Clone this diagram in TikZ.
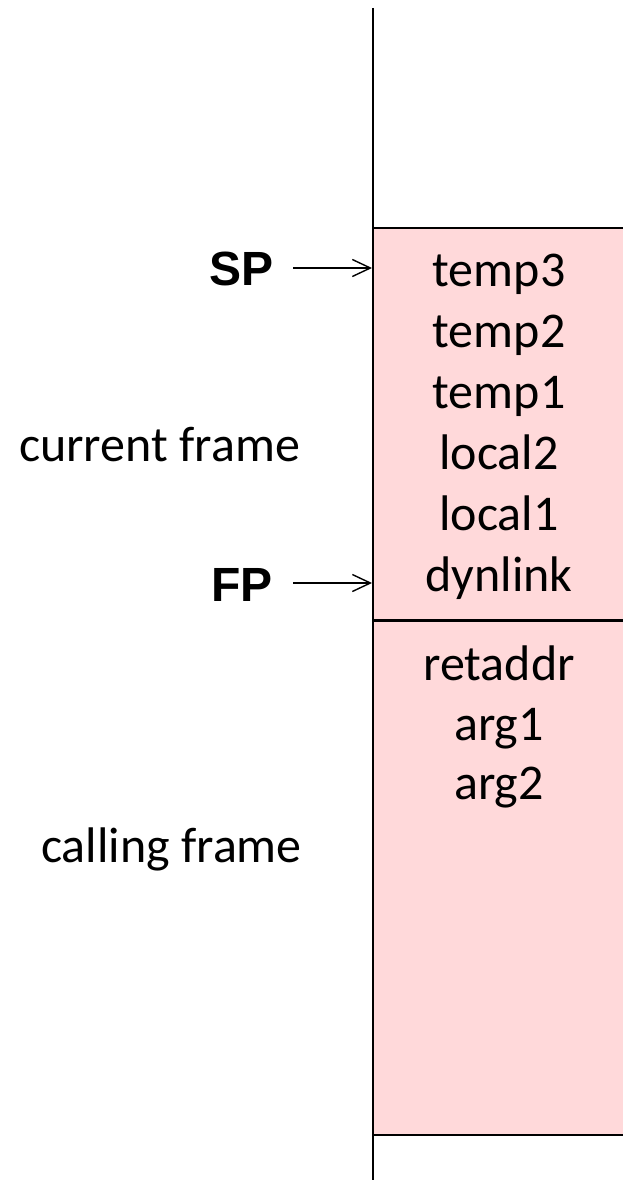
\documentclass[tikz,border=0pt]{standalone}
\usepackage{fontspec}
\setmainfont{Carlito}
\newfontfamily\regfont{Liberation Sans}
\usetikzlibrary{arrows.meta}
\definecolor{framefill}{RGB}{255,217,218}
\begin{document}
\begin{tikzpicture}[x=1pt,y=-1pt,
  slot/.style={anchor=base,inner sep=0pt,font=\fontsize{50}{60}\selectfont},
  side/.style={anchor=base east,inner sep=0pt,font=\fontsize{50}{60}\selectfont},
  reg/.style={anchor=base east,inner sep=0pt,font=\regfont\bfseries\fontsize{48}{56}\selectfont},
  pointer/.style={line width=1.4pt,-{Straight Barb[length=18pt,width=17pt,line width=1.4pt]}},
  rule/.style={line width=2.2pt}]
\useasboundingbox (0,0) rectangle (623,1180);

% stack area
\fill[framefill] (373,228) rectangle (623,1135);
\draw[rule] (373,228) -- (623,228);
\draw[line width=3pt] (373,620) -- (623,620);
\draw[rule] (373,1135) -- (623,1135);
\draw[rule] (373,8) -- (373,1180);

% current frame slots
\node[slot] (t3) at (499,286) {temp3};
\node[slot] (t2) at (499,347) {temp2};
\node[slot] (t1) at (499,408) {temp1};
\node[slot] (l2) at (499,469) {local2};
\node[slot] (l1) at (499,530) {local1};
\node[slot] (dl) at (499,591) {dynlink};

% calling frame slots
\node[slot] (ra) at (499,680) {retaddr};
\node[slot] (a1) at (499,740) {arg1};
\node[slot] (a2) at (499,799) {arg2};

% frame labels
\node[side] (cur) at (300,461) {current frame};
\node[side] (call) at (302,862) {calling frame};

% registers
\node[reg] (sp) at (274,285) {SP};
\node[reg] (fp) at (273,601) {FP};
\coordinate (spTail) at (293,268);
\coordinate (spHead) at (372,268);
\coordinate (fpTail) at (293,583);
\coordinate (fpHead) at (372,583);
\draw[pointer] (spTail) -- (spHead);
\draw[pointer] (fpTail) -- (fpHead);
\end{tikzpicture}
\end{document}
